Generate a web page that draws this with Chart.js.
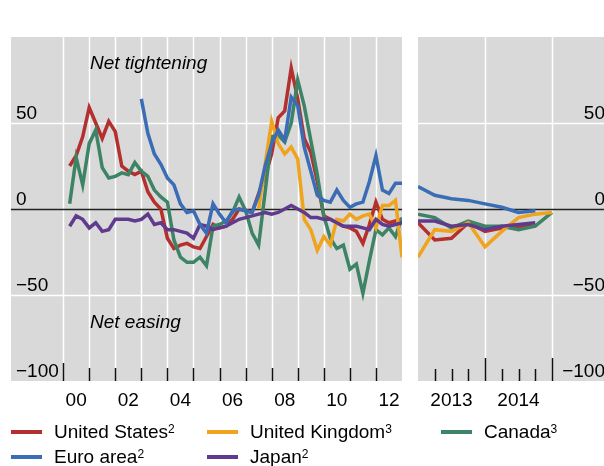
<!DOCTYPE html>
<html>
<head>
<meta charset="utf-8">
<script src="https://cdn.jsdelivr.net/npm/chart.js@4.4.1/dist/chart.umd.min.js"></script>
<style>
  html, body { margin: 0; padding: 0; background: #fff; }
  #wrap { position: relative; width: 604px; height: 466px; overflow: hidden;
          font-family: "Liberation Sans", Arial, sans-serif; }
  canvas { position: absolute; left: 0; top: 0; }
  .item { position: absolute; height: 22px; display: flex; align-items: center;
          font-size: 19px; color: #000; white-space: nowrap; }
  .item i { display: inline-block; width: 31px; height: 4px; margin-right: 12px; }
  .item sup { font-size: 12px; line-height: 0; position: relative; top: -3px; }
</style>
</head>
<body>
<div id="wrap">
  <canvas id="left" width="604" height="466"></canvas>
  <canvas id="right" width="604" height="466"></canvas>
</div>
<script>
// quarterly survey readings, net percentage of banks tightening
const usStart = 2000.25;
const usValues = [25, 31, 42, 59, 50, 41, 51, 45, 25, 22, 20, 22, 10, 4, 0, -17,
  -23, -21, -20, -22, -23, -16, -9, -11, -10, -6, 0, -1, -2, 9, 19, 32,
  53, 57, 82, 64, 41, 33, 16, -4, -6, -8, -10, -11, -13, -20, -9, 4, -6, -8, -7, -6];
const euroStart = 2003.0;
const euroValues = [64, 44, 32, 26, 18, 14, 3, -2, -1, -9, -14, 3, -3, -8, -1, 0,
  -1, -2, 8, 25, 38, 46, 40, 65, 60, 36, 22, 8, 5, 4, 11, 5, 1, 3, 4, 16, 31, 11, 9, 15, 15];
const japanStart = 2000.25;
const japanValues = [-10, -4, -6, -11, -8, -13, -12, -6, -6, -6, -7, -6, -3, -9, -8, -12,
  -12, -13, -14, -17, -9, -10, -12, -11, -10, -8, -6, -5, -4, -3, -2, -3,
  -2, 0, 2, 0, -2, -5, -5, -6, -6, -8, -10, -10, -10, -11, -12, -6, -9, -10, -9, -8];
const ukStart = 2007.5;
const ukValues = [0, 26, 51, 38, 32, 36, 29, -6, -12, -24, -16, -21, -6, -7, -3, -6,
  -4, -3, -11, 2, 2, 5, -28];
const canadaStart = 2000.25;
const canadaValues = [3, 30, 14, 38, 46, 24, 18, 19, 21, 20, 27, 22, 19, 11, 7, 4,
  -18, -28, -31, -31, -28, -33, -10, -9, -7, -2, 7, -1, -14, -21, 10, 42,
  43, 39, 50, 75, 60, 40, 20, -4, -17, -23, -21, -35, -32, -49, -30, -12, -15, -11, -16, -5];

// recent quarters (right panel), starting 2013 Q1
const recentStart = 2013.0;
const usRecent = [-8, -18, -17, -8, -13, -11, -10, -10];
const euroRecent = [13, 8, 6, 5, 3, 1, -2, -1];
const japanRecent = [-7, -7, -10, -9, -12, -10, -9, -8];
const ukRecent = [-28, -12, -13, -8, -22, -13, -5, -3, -2];
const canadaRecent = [-3, -5, -11, -7, -10, -10, -12, -10, -2];

const yTicks = [50, 0, -50, -100];
const yTickLabels = ['50', '0', '\u221250', '\u2212100'];
const leftYears = [2000, 2001, 2002, 2003, 2004, 2005, 2006, 2007, 2008, 2009, 2010, 2011, 2012];
const leftLabelYears = [2000, 2002, 2004, 2006, 2008, 2010, 2012];
const leftLabels = ['00', '02', '04', '06', '08', '10', '12'];
const rightQuarters = [2013.25, 2013.5, 2013.75, 2014.25, 2014.5, 2014.75];
const rightYears = [2014, 2015];
const rightLabelYears = [2013, 2014];
const rightLabels = ['2013', '2014'];

const colors = {
  us: '#b3302e', uk: '#f0a31c', canada: '#3d8466', euro: '#3a6db5', japan: '#603a8c'
};
const FONT = '"Liberation Sans", Arial, sans-serif';

const quarterly = (start, vals) => vals.map((v, i) => ({ x: start + i * 0.25, y: v }));

const ds = (vals, start, color) => ({
  data: quarterly(start, vals), borderColor: color, borderWidth: 3.5,
  pointRadius: 0, tension: 0, fill: false
});

function decor(o) {
  return {
    id: 'decor',
    beforeDraw(chart) {
      const { ctx, chartArea: a, scales: { x, y } } = chart;
      ctx.save();
      ctx.fillStyle = '#d9d9d9';
      ctx.fillRect(a.left, a.top, a.right - a.left, a.bottom - a.top);
      ctx.strokeStyle = '#ffffff';
      ctx.lineWidth = 1.5;
      ctx.beginPath();
      o.gridX.forEach(v => {
        const px = Math.round(x.getPixelForValue(v)) + 0.5;
        ctx.moveTo(px, a.top); ctx.lineTo(px, a.bottom);
      });
      [50, -50].forEach(v => {
        const py = Math.round(y.getPixelForValue(v)) + 0.5;
        ctx.moveTo(a.left, py); ctx.lineTo(a.right, py);
      });
      ctx.stroke();
      ctx.restore();
    },
    beforeDatasetsDraw(chart) {
      const { ctx, chartArea: a, scales: { y } } = chart;
      const py = Math.round(y.getPixelForValue(0)) + 0.5;
      ctx.save();
      ctx.strokeStyle = '#222';
      ctx.lineWidth = 1.5;
      ctx.beginPath(); ctx.moveTo(a.left, py); ctx.lineTo(a.right, py); ctx.stroke();
      ctx.restore();
    },
    afterDraw(chart) {
      const { ctx, chartArea: a, scales: { x, y } } = chart;
      ctx.save();
      ctx.strokeStyle = '#111';
      ctx.lineWidth = 1.5;
      ctx.beginPath();
      o.ticks.forEach(t => {
        const px = Math.round(x.getPixelForValue(t.v)) + 0.5;
        ctx.moveTo(px, a.bottom); ctx.lineTo(px, a.bottom - t.len);
      });
      ctx.stroke();
      ctx.fillStyle = '#000';
      ctx.font = '19px ' + FONT;
      ctx.textBaseline = 'alphabetic';
      ctx.textAlign = o.yAlign;
      yTicks.forEach((v, i) => {
        ctx.fillText(yTickLabels[i], o.yLabelX, y.getPixelForValue(v) - 4);
      });
      ctx.textAlign = 'center';
      ctx.textBaseline = 'middle';
      o.xLabelYears.forEach((v, i) => {
        ctx.fillText(o.xLabels[i], x.getPixelForValue(v + 0.5), 401);
      });
      if (o.notes) {
        ctx.font = 'italic 19px ' + FONT;
        ctx.textAlign = 'left';
        o.notes.forEach(n => ctx.fillText(n.text, n.x, n.y));
      }
      ctx.restore();
    }
  };
}

const baseOptions = (pad, xmin, xmax) => ({
  responsive: false,
  animation: false,
  layout: { padding: pad },
  scales: {
    x: { type: 'linear', min: xmin, max: xmax, display: false },
    y: { min: -100, max: 100, display: false }
  },
  plugins: { legend: { display: false }, tooltip: { enabled: false } }
});

new Chart(document.getElementById('left'), {
  type: 'line',
  data: {
    datasets: [
      ds(euroValues, euroStart, colors.euro),
      ds(japanValues, japanStart, colors.japan),
      ds(ukValues, ukStart, colors.uk),
      ds(canadaValues, canadaStart, colors.canada),
      ds(usValues, usStart, colors.us)
    ]
  },
  options: baseOptions({ left: 11, top: 37, right: 202, bottom: 85 }, 1998, 2013),
  plugins: [decor({
    gridX: leftYears,
    ticks: leftYears.map(v => ({ v, len: v === 2000 ? 18 : 13 })),
    yAlign: 'left', yLabelX: 16,
    xLabelYears: leftLabelYears, xLabels: leftLabels,
    notes: [{ text: 'Net tightening', x: 90, y: 64 }, { text: 'Net easing', x: 90, y: 323 }]
  })]
});

new Chart(document.getElementById('right'), {
  type: 'line',
  data: {
    datasets: [
      ds(euroRecent, recentStart, colors.euro),
      ds(japanRecent, recentStart, colors.japan),
      ds(ukRecent, recentStart, colors.uk),
      ds(canadaRecent, recentStart, colors.canada),
      ds(usRecent, recentStart, colors.us)
    ]
  },
  options: baseOptions({ left: 418, top: 37, right: 0, bottom: 85 }, 2013, 2015.776),
  plugins: [decor({
    gridX: rightYears,
    ticks: rightQuarters.map(v => ({ v, len: 12 })).concat(rightYears.map(v => ({ v, len: 23 }))),
    yAlign: 'right', yLabelX: 605,
    xLabelYears: rightLabelYears, xLabels: rightLabels
  })]
});

// legend, two rows
const legendItems = [
  { name: 'United States', note: '2', color: colors.us, x: 11, y: 421 },
  { name: 'United Kingdom', note: '3', color: colors.uk, x: 207, y: 421 },
  { name: 'Canada', note: '3', color: colors.canada, x: 441, y: 421 },
  { name: 'Euro area', note: '2', color: colors.euro, x: 11, y: 446 },
  { name: 'Japan', note: '2', color: colors.japan, x: 207, y: 446 }
];
const wrap = document.getElementById('wrap');
legendItems.forEach(it => {
  const d = document.createElement('div');
  d.className = 'item';
  d.style.left = it.x + 'px';
  d.style.top = it.y + 'px';
  d.innerHTML = '<i style="background:' + it.color + '"></i>' + it.name + '<sup>' + it.note + '</sup>';
  wrap.appendChild(d);
});
</script>
</body>
</html>
